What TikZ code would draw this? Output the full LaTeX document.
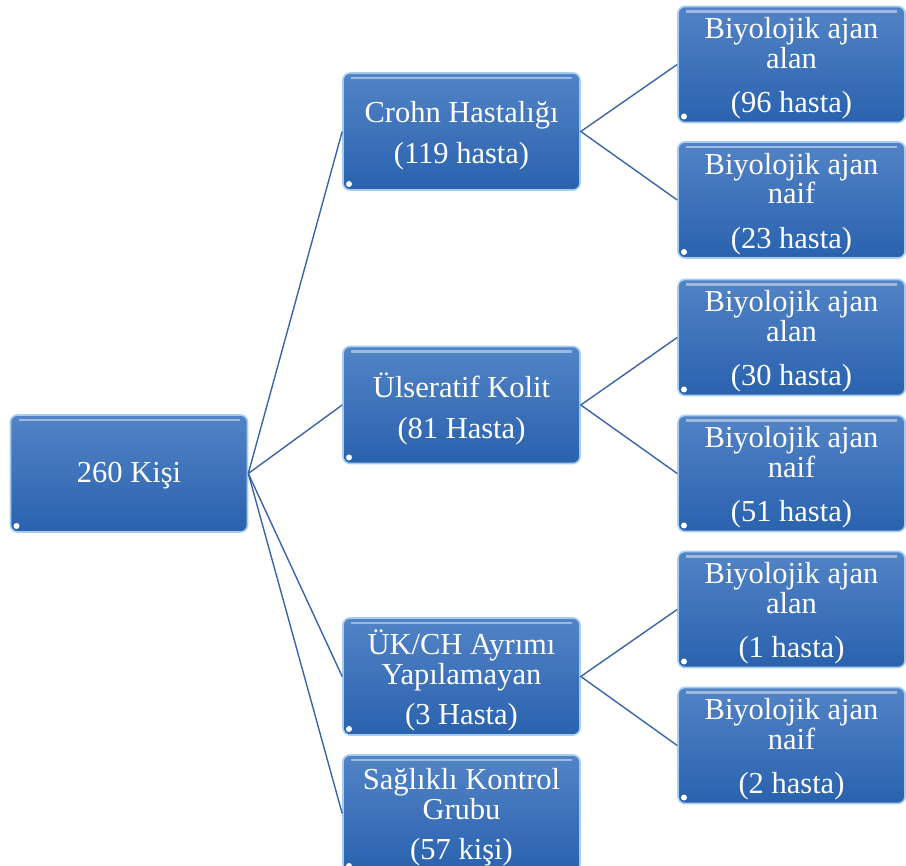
\documentclass[tikz,border=0pt]{standalone}
\usepackage{fontspec}
\setmainfont{Liberation Serif}
\definecolor{boxtop}{HTML}{5283C6}
\definecolor{boxbot}{HTML}{2A62AE}
\definecolor{boxedge}{HTML}{A6CDEE}
\definecolor{linkc}{HTML}{3A64A8}
\begin{document}
\begin{tikzpicture}[x=1pt,y=-1pt,
  blk/.style={rectangle, rounded corners=7pt, top color=boxtop, bottom color=boxbot,
    draw=boxedge, line width=1.6pt, inner sep=0pt,
    path picture={\draw[white, opacity=0.45, line width=2.5pt]
      ([xshift=8pt,yshift=-5pt]path picture bounding box.north west) --
      ([xshift=-8pt,yshift=-5pt]path picture bounding box.north east);
      \fill[white] ([xshift=6pt,yshift=6pt]path picture bounding box.south west) circle (3pt);}},
  txt/.style={text=white, align=center, inner sep=0pt, font=\fontsize{30.5}{29.5}\selectfont},
  rootbox/.style={blk, minimum width=237pt, minimum height=117pt},
  midbox/.style={blk, minimum width=237pt, minimum height=117pt},
  leafbox/.style={blk, minimum width=227pt, minimum height=116pt},
  link/.style={draw=linkc, line width=1.4pt}]
\useasboundingbox (0,0) rectangle (906,866);
\node[rootbox] (root) at (129,473.5) {};
\node[txt] (roott) at ([yshift=-2pt]root.center) {260 Kişi};
\node[midbox] (ch) at (461.5,131.5) {};
\node[txt] (cht) at ([yshift=-4pt]ch.center) {Crohn Hastalığı\\[11pt](119 hasta)};
\node[midbox] (uk) at (461.5,405) {};
\node[txt] (ukt) at ([yshift=-4pt]uk.center) {Ülseratif Kolit\\[11pt](81 Hasta)};
\node[midbox] (ay) at (461.5,676.5) {};
\node[txt] (ayt) at ([yshift=-4pt]ay.center) {ÜK/CH Ayrımı\\Yapılamayan\\[11pt](3 Hasta)};
\node[midbox] (sk) at (461.5,813.5) {};
\node[txt] (skt) at ([yshift=-4pt]sk.center) {Sağlıklı Kontrol\\Grubu\\[11pt](57 kişi)};
\node[leafbox] (l1) at (791.5,64.5) {};
\node[txt] (l1t) at ([yshift=-4pt]l1.center) {Biyolojik ajan\\alan\\[15pt](96 hasta)};
\node[leafbox] (l2) at (791.5,200) {};
\node[txt] (l2t) at ([yshift=-4pt]l2.center) {Biyolojik ajan\\naif\\[15pt](23 hasta)};
\node[leafbox] (l3) at (791.5,337.5) {};
\node[txt] (l3t) at ([yshift=-4pt]l3.center) {Biyolojik ajan\\alan\\[15pt](30 hasta)};
\node[leafbox] (l4) at (791.5,473.5) {};
\node[txt] (l4t) at ([yshift=-4pt]l4.center) {Biyolojik ajan\\naif\\[15pt](51 hasta)};
\node[leafbox] (l5) at (791.5,609.5) {};
\node[txt] (l5t) at ([yshift=-4pt]l5.center) {Biyolojik ajan\\alan\\[15pt](1 hasta)};
\node[leafbox] (l6) at (791.5,745.5) {};
\node[txt] (l6t) at ([yshift=-4pt]l6.center) {Biyolojik ajan\\naif\\[15pt](2 hasta)};
\foreach \m in {ch,uk,ay,sk} \draw[link] (root.east) -- (\m.west);
\draw[link] (l1.west) -- (ch.east) -- (l2.west);
\draw[link] (l3.west) -- (uk.east) -- (l4.west);
\draw[link] (l5.west) -- (ay.east) -- (l6.west);
\end{tikzpicture}
\end{document}
